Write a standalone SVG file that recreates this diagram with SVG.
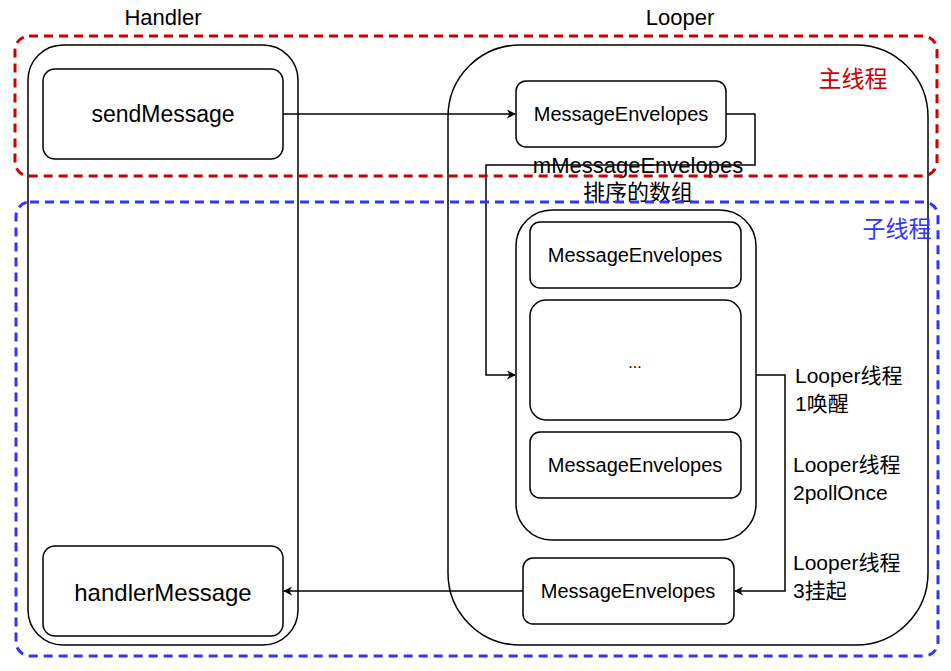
<svg xmlns="http://www.w3.org/2000/svg" width="951" height="671" viewBox="0 0 951 671">
<defs>
<style>
.box{fill:#fff;stroke:#000;stroke-width:1.5}
.t{font-family:"Liberation Sans","Noto Sans CJK SC",sans-serif;fill:#000;text-anchor:middle;dominant-baseline:central}
.lbl{font-family:"Liberation Sans","Noto Sans CJK SC",sans-serif;fill:#000;font-size:21px}
.edge{fill:none;stroke:#000;stroke-width:1.5}
</style>
<marker id="arr" viewBox="0 0 10 10" refX="9" refY="5" markerWidth="9" markerHeight="9" markerUnits="userSpaceOnUse" orient="auto">
<path d="M0,0 L10,5 L0,10 L3,5 Z" fill="#000"/>
</marker>
</defs>
<rect width="951" height="671" fill="#fff"/>
<text class="t" x="163" y="17" font-size="22">Handler</text>
<text class="t" x="680" y="17" font-size="22">Looper</text>
<g id="handler"><rect class="box" x="28" y="45" width="270" height="600" rx="35"/></g>
<g id="looper"><rect class="box" x="448" y="45" width="480" height="600" rx="72"/></g>
<g id="sendMessage"><rect class="box" x="43" y="69" width="240" height="90" rx="12"/><text class="t" x="163" y="114" font-size="23">sendMessage</text></g>
<g id="handlerMessage"><rect class="box" x="43" y="546" width="240" height="90" rx="12"/><text class="t" x="163" y="592" font-size="24">handlerMessage</text></g>
<g id="msgTop"><rect class="box" x="516" y="81" width="210" height="66" rx="10"/><text class="t" x="621" y="114" font-size="20">MessageEnvelopes</text></g>
<g id="list"><rect class="box" x="516" y="210" width="240" height="330" rx="36"/></g>
<g id="msg1"><rect class="box" x="530" y="222" width="211" height="66" rx="10"/><text class="t" x="635" y="255" font-size="20">MessageEnvelopes</text></g>
<g id="dots"><rect class="box" x="530" y="300" width="211" height="120" rx="16"/><text class="t" x="635" y="362" font-size="16">...</text></g>
<g id="msg3"><rect class="box" x="530" y="432" width="211" height="66" rx="10"/><text class="t" x="635" y="465" font-size="20">MessageEnvelopes</text></g>
<g id="msgBottom"><rect class="box" x="523" y="558" width="211" height="66" rx="10"/><text class="t" x="628" y="591" font-size="20">MessageEnvelopes</text></g>
<g id="connectors">
<path class="edge" d="M283,114 L515,114" marker-end="url(#arr)"/>
<path class="edge" d="M726,114 L755,114 L755,165 L486,165 L486,375 L515,375" marker-end="url(#arr)"/>
<path class="edge" d="M756,375 L785,375 L785,591 L735,591" marker-end="url(#arr)"/>
<path class="edge" d="M523,591 L284,591" marker-end="url(#arr)"/>
<text class="t" x="638" y="165" font-size="22">mMessageEnvelopes</text>
<text class="t" x="638" y="192" font-size="22">排序的数组</text>
<text class="lbl" x="795" y="383">Looper线程</text>
<text class="lbl" x="795" y="411">1唤醒</text>
<text class="lbl" x="793" y="472">Looper线程</text>
<text class="lbl" x="793" y="500">2pollOnce</text>
<text class="lbl" x="793" y="570">Looper线程</text>
<text class="lbl" x="793" y="598">3挂起</text>
</g>
<g id="mainThread">
<rect x="15" y="36" width="922" height="140" rx="14" fill="none" stroke="#CC0000" stroke-width="3" stroke-dasharray="9,6"/>
<text x="853" y="77" font-size="23" fill="#CC0000" font-family="Noto Sans CJK SC,sans-serif" text-anchor="middle" dominant-baseline="central">主线程</text>
</g>
<g id="subThread">
<rect x="16" y="202" width="922" height="454" rx="14" fill="none" stroke="#3333FF" stroke-width="3" stroke-dasharray="9,6"/>
<text x="897" y="227" font-size="23" fill="#3333FF" font-family="Noto Sans CJK SC,sans-serif" text-anchor="middle" dominant-baseline="central">子线程</text>
</g>
</svg>
